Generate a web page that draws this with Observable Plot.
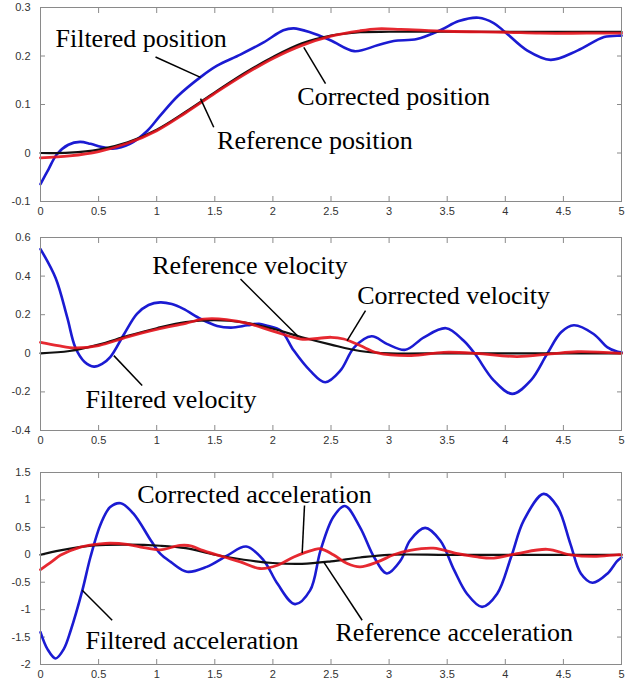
<!DOCTYPE html>
<html>
<head>
<meta charset="utf-8">
<script src="https://cdn.jsdelivr.net/npm/d3@7"></script>
<script src="https://cdn.jsdelivr.net/npm/@observablehq/plot@0.6"></script>
<style>
  body { margin: 0; background: #fff; }
  #chart { position: relative; width: 634px; height: 683px; overflow: hidden; }
  .panel { position: absolute; left: 0; }
</style>
</head>
<body>
<div id="chart"></div>
<script>
// ---- data ----
const xTicks = [0, 0.5, 1, 1.5, 2, 2.5, 3, 3.5, 4, 4.5, 5];
const posTicks = [-0.1, 0, 0.1, 0.2, 0.3];
const velTicks = [-0.4, -0.2, 0, 0.2, 0.4, 0.6];
const accTicks = [-2, -1.5, -1, -0.5, 0, 0.5, 1, 1.5];

const posFiltered = [[0,-0.064],[0.07,-0.033],[0.14,-0.003],[0.24,0.017],[0.34,0.023],[0.43,0.019],[0.52,0.013],[0.62,0.009],[0.77,0.019],[0.92,0.046],[1.03,0.077],[1.18,0.117],[1.38,0.157],[1.52,0.180],[1.72,0.203],[1.92,0.228],[2.09,0.253],[2.18,0.257],[2.32,0.249],[2.5,0.232],[2.7,0.210],[2.9,0.222],[3.04,0.231],[3.24,0.235],[3.44,0.253],[3.6,0.272],[3.77,0.279],[3.9,0.268],[4.0,0.249],[4.19,0.211],[4.39,0.192],[4.62,0.211],[4.85,0.239],[4.98,0.242],[5,0.242]];
const posReference = [[0,0],[0.25,0.0008],[0.5,0.007],[0.75,0.022],[1.0,0.048],[1.25,0.085],[1.5,0.125],[1.75,0.164],[2.0,0.198],[2.25,0.226],[2.5,0.242],[2.75,0.249],[3.0,0.25],[3.5,0.25],[4.0,0.25],[4.5,0.25],[5,0.25]];
const posCorrected = [[0,-0.01],[0.25,-0.006],[0.5,0.003],[0.75,0.02],[1.0,0.046],[1.25,0.083],[1.5,0.123],[1.75,0.161],[2.0,0.195],[2.25,0.222],[2.5,0.241],[2.75,0.252],[2.9,0.256],[3.1,0.255],[3.5,0.251],[4.0,0.249],[4.3,0.247],[4.7,0.247],[5,0.247]];

const velFiltered = [[0,0.54],[0.13,0.39],[0.23,0.186],[0.30,0.03],[0.38,-0.045],[0.46,-0.069],[0.53,-0.055],[0.60,-0.02],[0.72,0.10],[0.83,0.204],[0.93,0.25],[1.03,0.264],[1.13,0.255],[1.23,0.23],[1.38,0.178],[1.52,0.142],[1.64,0.133],[1.78,0.145],[1.88,0.153],[1.95,0.143],[2.07,0.117],[2.18,0.014],[2.32,-0.09],[2.45,-0.15],[2.58,-0.09],[2.70,0.031],[2.85,0.088],[2.98,0.049],[3.14,0.018],[3.30,0.083],[3.49,0.13],[3.64,0.066],[3.74,-0.004],[3.90,-0.14],[4.06,-0.21],[4.22,-0.14],[4.36,-0.003],[4.48,0.109],[4.59,0.145],[4.76,0.10],[4.88,0.031],[4.96,0.009],[5,0.005]];
const velReference = [[0,0],[0.25,0.012],[0.5,0.045],[0.75,0.09],[1.0,0.13],[1.25,0.162],[1.5,0.172],[1.75,0.16],[2.0,0.127],[2.25,0.083],[2.5,0.045],[2.75,0.012],[3.0,0],[3.5,0],[4.0,0],[4.5,0],[5,0]];
const velCorrected = [[0,0.057],[0.15,0.04],[0.3,0.028],[0.5,0.04],[0.75,0.085],[1.0,0.124],[1.25,0.155],[1.4,0.177],[1.6,0.175],[1.8,0.152],[2.0,0.115],[2.24,0.074],[2.4,0.078],[2.5,0.083],[2.61,0.074],[2.75,0.04],[2.9,0.002],[3.19,-0.012],[3.47,0.005],[3.75,0.0],[4.1,-0.017],[4.39,-0.003],[4.62,0.008],[5,0.0]];

const accFiltered = [[0,-1.41],[0.06,-1.72],[0.13,-1.89],[0.2,-1.72],[0.26,-1.38],[0.36,-0.65],[0.43,-0.04],[0.52,0.57],[0.60,0.87],[0.69,0.94],[0.80,0.75],[0.95,0.26],[1.03,0.02],[1.12,-0.13],[1.26,-0.31],[1.43,-0.22],[1.61,-0.01],[1.77,0.15],[1.92,-0.10],[2.04,-0.53],[2.19,-0.90],[2.32,-0.65],[2.41,0.08],[2.52,0.69],[2.62,0.89],[2.75,0.50],[2.87,-0.04],[2.98,-0.34],[3.10,-0.10],[3.18,0.26],[3.31,0.49],[3.44,0.26],[3.56,-0.28],[3.67,-0.71],[3.80,-0.95],[3.93,-0.71],[4.05,-0.04],[4.16,0.63],[4.33,1.11],[4.45,0.87],[4.56,0.20],[4.65,-0.34],[4.75,-0.51],[4.88,-0.34],[4.96,-0.12],[5,-0.05]];
const accReference = [[0,0],[0.17,0.08],[0.46,0.17],[0.75,0.185],[1.03,0.165],[1.25,0.12],[1.5,0.0],[1.75,-0.09],[2.0,-0.15],[2.25,-0.165],[2.5,-0.12],[2.75,-0.05],[3.0,0],[3.5,0],[4.0,0],[4.5,0],[5,0]];
const accCorrected = [[0,-0.27],[0.1,-0.12],[0.17,-0.01],[0.344,0.14],[0.516,0.2],[0.6,0.21],[0.746,0.19],[0.89,0.13],[1.03,0.09],[1.2,0.17],[1.3,0.16],[1.38,0.09],[1.58,-0.04],[1.72,-0.13],[1.89,-0.25],[2.04,-0.19],[2.18,-0.04],[2.35,0.09],[2.41,0.11],[2.52,0.0],[2.64,-0.16],[2.75,-0.22],[2.90,-0.13],[3.04,0.0],[3.18,0.08],[3.38,0.12],[3.59,0.02],[3.76,-0.04],[3.90,-0.06],[4.10,0.02],[4.36,0.1],[4.56,0.0],[4.76,-0.03],[4.96,0.0],[5,0]];

// annotation labels (data coordinates) and leader lines
const posLabels = [
  {x: 0.129, y: 0.236, text: "Filtered position"},
  {x: 2.21, y: 0.1165, text: "Corrected position"},
  {x: 1.52, y: 0.025, text: "Reference position"}
];
const posLeaders = [
  {x1: 0.99, y1: 0.198, x2: 1.377, y2: 0.156},
  {x1: 2.266, y1: 0.218, x2: 2.453, y2: 0.143},
  {x1: 1.377, y1: 0.112, x2: 1.491, y2: 0.053}
];
const velLabels = [
  {x: 0.961, y: 0.452, text: "Reference velocity"},
  {x: 2.726, y: 0.297, text: "Corrected velocity"},
  {x: 0.387, y: -0.238, text: "Filtered velocity"}
];
const velLeaders = [
  {x1: 1.721, y1: 0.385, x2: 2.209, y2: 0.092},
  {x1: 2.797, y1: 0.221, x2: 2.639, y2: 0.066},
  {x1: 0.631, y1: -0.012, x2: 0.875, y2: -0.167}
];
const accLabels = [
  {x: 0.832, y: 1.087, text: "Corrected acceleration"},
  {x: 0.387, y: -1.564, text: "Filtered acceleration"},
  {x: 2.539, y: -1.412, text: "Reference acceleration"}
];
const accLeaders = [
  {x1: 2.272, y1: 0.899, x2: 2.252, y2: 0.03},
  {x1: 0.359, y1: -0.648, x2: 0.617, y2: -1.194},
  {x1: 2.438, y1: -0.133, x2: 2.768, y2: -1.194}
];

// ---- drawing ----
const BLUE = "#1b1bd2", RED = "#e3121b", BLACK = "#111";
const fmt = d => String(d);

function panel({top, height, mt, mb, yDomain, yTicks, filtered, reference, corrected, labels, leaders}) {
  const fig = Plot.plot({
    width: 634, height,
    marginLeft: 40, marginRight: 13, marginTop: mt, marginBottom: mb,
    x: {domain: [0, 5], label: null},
    y: {domain: yDomain, label: null},
    style: {fontFamily: "'Liberation Sans', Arial, sans-serif", fontSize: "11px", background: "white", color: "#333"},
    marks: [
      Plot.axisX(xTicks, {anchor: "bottom", tickSize: -5, tickPadding: 11, stroke: "#8a8a8a", fill: "#333", tickFormat: fmt}),
      Plot.axisX(xTicks, {anchor: "top", tickSize: -5, stroke: "#8a8a8a", tickFormat: () => ""}),
      Plot.axisY(yTicks, {anchor: "left", tickSize: -5, tickPadding: 15, stroke: "#8a8a8a", fill: "#333", tickFormat: fmt}),
      Plot.axisY(yTicks, {anchor: "right", tickSize: -5, stroke: "#8a8a8a", tickFormat: () => ""}),
      Plot.line(filtered, {x: d => d[0], y: d => d[1], stroke: BLUE, strokeWidth: 2.6, curve: "catmull-rom"}),
      Plot.line(reference, {x: d => d[0], y: d => d[1], stroke: BLACK, strokeWidth: 2.2, curve: "catmull-rom"}),
      Plot.line(corrected, {x: d => d[0], y: d => d[1], stroke: RED, strokeWidth: 2.8, strokeOpacity: 0.9, curve: "catmull-rom"}),
      Plot.frame({stroke: "#8a8a8a"}),
      Plot.link(leaders, {x1: "x1", y1: "y1", x2: "x2", y2: "y2", stroke: "black", strokeWidth: 1.5}),
      Plot.text(labels, {x: "x", y: "y", text: "text", textAnchor: "start", lineAnchor: "middle",
        fontFamily: "'Liberation Serif', 'Times New Roman', serif", fontSize: 26, fill: "black"})
    ]
  });
  const div = document.createElement("div");
  div.className = "panel";
  div.style.top = top + "px";
  div.appendChild(fig);
  document.getElementById("chart").appendChild(div);
}

panel({top: 0, height: 221, mt: 7, mb: 20, yDomain: [-0.1, 0.3], yTicks: posTicks,
  filtered: posFiltered, reference: posReference, corrected: posCorrected, labels: posLabels, leaders: posLeaders});
panel({top: 221, height: 229, mt: 16, mb: 20, yDomain: [-0.4, 0.6], yTicks: velTicks,
  filtered: velFiltered, reference: velReference, corrected: velCorrected, labels: velLabels, leaders: velLeaders});
panel({top: 450, height: 233, mt: 22, mb: 19, yDomain: [-2, 1.5], yTicks: accTicks,
  filtered: accFiltered, reference: accReference, corrected: accCorrected, labels: accLabels, leaders: accLeaders});
</script>
</body>
</html>
